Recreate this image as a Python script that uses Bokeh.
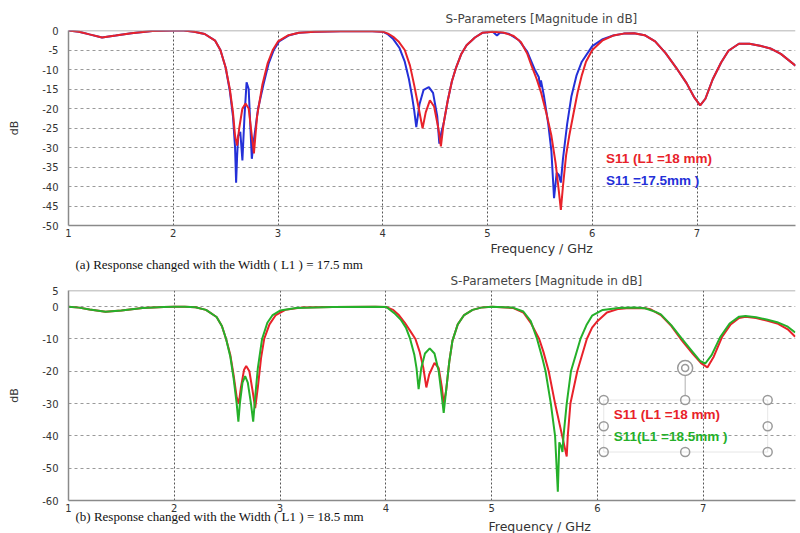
from bokeh.plotting import figure
from bokeh.layouts import column
from bokeh.models import (Label, Title, Span, FixedTicker, BoxAnnotation)
from bokeh.embed import file_html
from bokeh.resources import INLINE

# ---------------- data: panel (a) ----------------
a_red_f = [1.0, 1.1, 1.2, 1.32, 1.45, 1.6, 1.8, 2.0, 2.1, 2.2, 2.3, 2.4, 2.45, 2.5, 2.54, 2.57,
           2.59, 2.61, 2.63, 2.66, 2.69, 2.72, 2.75, 2.77, 2.8, 2.85, 2.9, 2.95, 3.0, 3.1, 3.2,
           3.35, 3.6, 3.9, 4.0, 4.05, 4.1, 4.15, 4.21, 4.26, 4.3, 4.34, 4.38, 4.41, 4.45, 4.49,
           4.53, 4.555, 4.58, 4.62, 4.66, 4.7, 4.75, 4.8, 4.88, 4.95, 5.05, 5.15, 5.25, 5.32,
           5.38, 5.42, 5.47, 5.51, 5.56, 5.61, 5.65, 5.68, 5.70, 5.72, 5.75, 5.78, 5.83, 5.86,
           5.9, 5.94, 6.0, 6.1, 6.2, 6.3, 6.4, 6.5, 6.6, 6.7, 6.8, 6.9, 6.97, 7.03, 7.08, 7.15,
           7.23, 7.3, 7.4, 7.5, 7.6, 7.7, 7.8, 7.94]
a_red_db = [0.0, -0.3, -1.0, -1.8, -1.3, -0.7, -0.1, 0.0, 0.0, -0.3, -0.9, -2.6, -5.0, -9.5, -15.0, -21.0,
            -27.0, -29.5, -25.0, -20.0, -18.7, -20.0, -27.0, -31.5, -22.0, -14.0, -8.5, -5.0, -2.8, -1.2, -0.6,
            -0.3, -0.2, -0.2, -0.3, -0.8, -1.6, -2.8, -5.0, -9.0, -14.0, -19.5, -25.1, -21.0, -17.9, -19.5,
            -25.0, -29.7, -24.0, -18.0, -13.0, -9.5, -6.0, -3.8, -1.8, -0.6, -0.3, -0.5, -1.4, -3.0,
            -6.0, -9.0, -12.5, -15.8, -21.0, -27.0, -34.0, -41.0, -46.0, -40.0, -32.0, -27.0, -20.0, -15.9,
            -11.5, -8.0, -5.0, -2.5, -1.3, -0.8, -0.7, -1.2, -2.8, -5.8, -9.5, -13.5, -17.0, -19.2, -17.5, -12.5,
            -8.2, -5.2, -3.4, -3.4, -3.9, -4.6, -6.0, -9.0]

a_blue_f = [1.0, 1.1, 1.2, 1.32, 1.45, 1.6, 1.8, 2.0, 2.1, 2.2, 2.3, 2.4, 2.45, 2.5, 2.54, 2.57,
            2.59, 2.6, 2.61, 2.62, 2.64, 2.66, 2.68, 2.70, 2.72, 2.735, 2.75, 2.77, 2.81, 2.86, 2.91,
            2.96, 3.01, 3.1, 3.2, 3.35, 3.6, 3.9, 4.0, 4.05, 4.1, 4.16, 4.21, 4.25, 4.28, 4.3, 4.32,
            4.35, 4.39, 4.44, 4.48, 4.52, 4.54, 4.56, 4.58, 4.62, 4.66, 4.7, 4.75, 4.8, 4.88, 4.95,
            5.05, 5.09, 5.12, 5.2, 5.3, 5.38, 5.45, 5.49, 5.5, 5.51, 5.54, 5.58, 5.61, 5.635, 5.66,
            5.68, 5.70, 5.72, 5.76, 5.8, 5.85, 5.9, 6.0, 6.1, 6.2, 6.3, 6.4, 6.5, 6.6, 6.7, 6.8,
            6.9, 6.97, 7.03, 7.08, 7.15, 7.23, 7.3, 7.4, 7.5, 7.6, 7.7, 7.8, 7.94]
a_blue_db = [0.0, -0.3, -1.0, -1.8, -1.3, -0.7, -0.1, 0.0, 0.0, -0.3, -0.9, -2.6, -5.0, -9.5, -15.5, -22.0,
             -30.0, -39.0, -32.0, -27.0, -26.0, -33.3, -22.0, -13.3, -15.0, -24.0, -32.9, -28.0, -20.0, -14.0, -8.5,
             -5.0, -2.8, -1.3, -0.6, -0.3, -0.2, -0.2, -0.3, -1.0, -2.2, -4.5, -8.0, -12.5, -17.0, -20.5, -24.8,
             -19.0, -15.2, -14.5, -16.0, -22.0, -29.0, -26.0, -24.0, -18.0, -13.0, -9.5, -6.0, -3.8, -1.8, -0.6,
             -0.3, -1.3, -0.5, -0.8, -2.5, -5.5, -10.0, -12.0, -14.5, -12.8, -17.0, -24.0, -31.0, -43.0, -36.5,
             -37.0, -39.0, -33.0, -24.0, -17.0, -11.5, -8.0, -4.0, -2.2, -1.3, -0.8, -0.7, -1.2, -2.8, -5.8, -9.5,
             -13.5, -17.0, -19.2, -17.5, -12.5, -8.2, -5.2, -3.4, -3.4, -3.9, -4.6, -6.0, -9.0]

# ---------------- data: panel (b) ----------------
b_red_f = [1.0, 1.1, 1.2, 1.35, 1.5, 1.7, 1.9, 2.0, 2.1, 2.2, 2.3, 2.4, 2.45, 2.49, 2.53, 2.56,
           2.59, 2.61, 2.63, 2.66, 2.68, 2.71, 2.74, 2.765, 2.79, 2.82, 2.85, 2.9, 2.96, 3.05, 3.2,
           3.5, 3.9, 4.0, 4.07, 4.12, 4.18, 4.23, 4.28, 4.32, 4.355, 4.383, 4.41, 4.46, 4.5, 4.53,
           4.547, 4.57, 4.6, 4.63, 4.68, 4.74, 4.82, 4.9, 5.0, 5.2, 5.3, 5.37, 5.45, 5.49, 5.54,
           5.60, 5.667, 5.71, 5.72, 5.745, 5.81, 5.9, 5.95, 6.0, 6.09, 6.2, 6.3, 6.45, 6.5, 6.6,
           6.7, 6.8, 6.9, 6.98, 7.04, 7.1, 7.18, 7.26, 7.34, 7.4, 7.5, 7.6, 7.7, 7.8, 7.87]
b_red_db = [0.0, -0.3, -0.9, -1.6, -1.2, -0.4, -0.1, 0.0, 0.0, -0.2, -1.0, -3.2, -6.0, -10.0, -15.0, -21.0,
            -28.0, -30.0, -25.0, -19.5, -18.4, -20.0, -26.0, -31.4, -25.0, -16.0, -10.0, -5.5, -2.6, -1.0, -0.3,
            -0.1, 0.0, -0.1, -1.0, -2.5, -5.0, -7.5, -10.0, -14.0, -19.0, -25.0, -21.0, -17.4, -19.0, -25.0,
            -30.0, -26.0, -17.0, -10.5, -5.5, -2.6, -1.0, -0.3, 0.0, -0.4, -1.8, -5.0, -10.0, -14.0, -20.0,
            -30.0, -40.0, -46.4, -40.0, -30.0, -20.0, -10.0, -6.5, -4.5, -1.8, -0.7, -0.4, -0.5, -0.8, -2.6,
            -6.0, -10.5, -14.5, -17.5, -18.8, -15.5, -9.3, -5.5, -3.5, -3.1, -3.5, -4.3, -5.2, -7.0, -9.3]

b_green_f = [1.0, 1.1, 1.2, 1.35, 1.5, 1.7, 1.9, 2.0, 2.1, 2.2, 2.3, 2.4, 2.45, 2.49, 2.53, 2.56,
             2.59, 2.606, 2.62, 2.645, 2.67, 2.695, 2.725, 2.746, 2.765, 2.79, 2.83, 2.88, 2.93, 3.0,
             3.15, 3.5, 3.9, 4.0, 4.02, 4.08, 4.14, 4.19, 4.23, 4.27, 4.29, 4.31, 4.335, 4.37, 4.415,
             4.46, 4.5, 4.53, 4.547, 4.57, 4.6, 4.63, 4.68, 4.74, 4.82, 4.9, 5.0, 5.2, 5.3, 5.37,
             5.43, 5.48, 5.51, 5.56, 5.60, 5.626, 5.64, 5.655, 5.67, 5.68, 5.71, 5.75, 5.84, 5.9,
             5.95, 6.05, 6.2, 6.35, 6.45, 6.55, 6.6, 6.7, 6.8, 6.9, 6.97, 7.02, 7.08, 7.16, 7.25,
             7.34, 7.4, 7.5, 7.6, 7.7, 7.8, 7.87]
b_green_db = [0.0, -0.3, -0.9, -1.6, -1.2, -0.4, -0.1, 0.0, 0.0, -0.2, -1.0, -3.2, -6.0, -10.0, -15.5, -22.0,
              -30.0, -35.6, -30.0, -23.5, -21.5, -23.5, -30.0, -35.6, -28.0, -19.0, -10.0, -5.0, -2.6, -1.2,
              -0.4, -0.1, 0.0, -0.1, -0.5, -2.0, -4.0, -6.5, -10.0, -15.0, -19.0, -25.5, -19.0, -14.5, -12.9,
              -14.5, -20.0, -28.0, -32.9, -26.0, -17.0, -10.5, -5.5, -2.6, -1.0, -0.3, 0.0, -0.3, -1.5, -4.5,
              -10.0, -16.0, -20.0, -30.0, -40.0, -57.3, -42.0, -43.0, -45.0, -40.0, -30.0, -20.0, -10.0, -5.5,
              -2.8, -1.0, -0.4, -0.3, -0.5, -1.6, -2.4, -5.8, -10.0, -14.0, -16.8, -17.6, -15.0, -9.5, -5.2,
              -3.1, -2.9, -3.3, -4.0, -4.8, -6.2, -8.0]

x_ticks = [1, 2, 3, 4, 5, 6, 7]
a_y_ticks = [0, -5, -10, -15, -20, -25, -30, -35, -40, -45, -50]
b_y_ticks = [5, 0, -10, -20, -30, -40, -50, -60]

title_text = "S-Parameters [Magnitude in dB]"
x_label = "Frequency / GHz"
y_label = "dB"
cap_a = "(a) Response changed with the Width ( L1 ) = 17.5 mm"
cap_b = "(b) Response changed with the Width ( L1 ) = 18.5 mm"
leg_a = ["S11 (L1 =18 mm)", "S11 =17.5mm )"]
leg_b = ["S11 (L1 =18 mm)", "S11(L1 =18.5mm )"]

# text-box handles drawn over panel (b) (annotation decoration)
box_x = [6.06, 6.83, 7.61]
box_y = [-28.9, -37.0, -45.0]
rot_handle = (6.83, -19.0)

RED = "#e8222a"
BLUE = "#2430d8"
GREEN = "#25b02a"
AX_FONT = "DejaVu Sans"
LEG_FONT = "'Liberation Sans Narrow', 'Liberation Sans', sans-serif"
SERIF = "'Liberation Serif', serif"


def make_title(text, offset, standoff, font, size, color, valign="bottom"):
    kw = dict(text=text, align="left", offset=offset, text_font=font, text_font_size=size,
              text_font_style="normal", text_color=color, vertical_align=valign)
    try:
        return Title(standoff=standoff, **kw)
    except Exception:
        return Title(standoff=0, **kw)


def style(p, yticks):
    p.outline_line_color = None
    p.background_fill_color = "white"
    p.border_fill_color = "white"
    for ax in (p.xaxis[0], p.yaxis[0]):
        ax.major_tick_in = 0
        ax.major_tick_out = 0
        ax.minor_tick_in = 0
        ax.minor_tick_out = 0
        ax.major_label_text_font = AX_FONT
        ax.major_label_text_font_size = "10px"
        ax.major_label_text_color = "#333333"
        ax.axis_label_text_font = AX_FONT
        ax.axis_label_text_font_size = "11px"
        ax.axis_label_text_font_style = "normal"
        ax.axis_label_text_color = "#333333"
        ax.axis_line_color = "#8a8a8a"
        ax.axis_line_width = 1.5
    p.xaxis.ticker = FixedTicker(ticks=x_ticks)
    p.yaxis.ticker = FixedTicker(ticks=yticks)
    p.yaxis.major_label_overrides = {t: str(t) for t in yticks}
    p.xaxis.major_label_overrides = {t: str(t) for t in x_ticks}
    p.yaxis.axis_label = y_label
    p.xaxis.major_label_standoff = 3
    p.yaxis.major_label_standoff = 10
    p.yaxis.axis_label_standoff = 18
    p.xgrid.ticker = FixedTicker(ticks=x_ticks[1:])
    p.xgrid.grid_line_color = "#555555"
    p.xgrid.grid_line_dash = "2 2"
    p.xgrid.grid_line_width = 1
    p.ygrid.ticker = FixedTicker(ticks=[t for t in yticks if t != max(yticks)])
    p.ygrid.grid_line_color = "#9a9a9a"
    p.ygrid.grid_line_dash = "3 3"
    p.ygrid.grid_line_width = 1
    p.add_layout(Span(location=max(yticks), dimension="width", line_color="#9a9a9a", line_width=1.5))


# ---------------- panel (a) ----------------
p1 = figure(width=800, height=272, x_range=(1, 7.94), y_range=(-50, 0),
            output_backend="svg", toolbar_location=None,
            min_border_left=66, min_border_right=5, min_border_top=30, min_border_bottom=47)
style(p1, a_y_ticks)
p1.add_layout(make_title(title_text, 377, 6, AX_FONT, "12px", "#444444", "top"), "above")
p1.add_layout(make_title(x_label, 422, -1.5, AX_FONT, "12.5px", "#333333"), "below")
p1.add_layout(make_title(cap_a, 7, -1, SERIF, "13px", "#111111"), "below")
p1.line(a_blue_f, a_blue_db, line_color=BLUE, line_width=2)
p1.line(a_red_f, a_red_db, line_color=RED, line_width=2)
p1.add_layout(Label(x=6.13, y=-32.8, text=leg_a[0], text_color=RED, text_font=LEG_FONT,
                    text_font_size="13.5px", text_font_style="bold", text_baseline="middle"))
p1.add_layout(Label(x=6.13, y=-38.5, text=leg_a[1], text_color=BLUE, text_font=LEG_FONT,
                    text_font_size="13.5px", text_font_style="bold", text_baseline="middle"))

# ---------------- panel (b) ----------------
p2 = figure(width=800, height=261, x_range=(1, 7.873), y_range=(-60, 5),
            output_backend="svg", toolbar_location=None,
            min_border_left=68, min_border_right=0, min_border_top=18, min_border_bottom=33)
style(p2, b_y_ticks)
p2.add_layout(make_title(title_text, 382, 2, AX_FONT, "12px", "#444444", "top"), "above")
# caption (b) shares the row of the axis label, as in the original
p2.add_layout(make_title(cap_b, 7, -14, SERIF, "13px", "#111111", "middle"), "below")
p2.add_layout(make_title(x_label, 420, -2.5, AX_FONT, "12.5px", "#333333"), "below")
p2.line(b_red_f, b_red_db, line_color=RED, line_width=2)
p2.line(b_green_f, b_green_db, line_color=GREEN, line_width=2)

# selected text box (annotation with handles)
p2.add_layout(BoxAnnotation(left=box_x[0], right=box_x[2], top=box_y[0], bottom=box_y[2],
                            fill_alpha=0, line_color="#b0b0b0", line_width=1))
p2.line([rot_handle[0], box_x[1]], [rot_handle[1], box_y[0]], line_color="#b0b0b0", line_width=1)
hx = [box_x[0], box_x[1], box_x[2], box_x[0], box_x[2], box_x[0], box_x[1], box_x[2]]
hy = [box_y[0], box_y[0], box_y[0], box_y[1], box_y[1], box_y[2], box_y[2], box_y[2]]
p2.scatter(hx, hy, size=9, marker="circle", fill_color="white", line_color="#9a9a9a", line_width=1.5)
p2.scatter([rot_handle[0]], [rot_handle[1]], size=15, marker="circle", fill_color="white",
           line_color="#9a9a9a", line_width=1.5)
p2.scatter([rot_handle[0]], [rot_handle[1]], size=7, marker="circle", fill_color="white",
           line_color="#9a9a9a", line_width=1.5)

p2.add_layout(Label(x=6.155, y=-33.5, text=leg_b[0], text_color=RED, text_font=LEG_FONT,
                    text_font_size="13.5px", text_font_style="bold", text_baseline="middle"))
p2.add_layout(Label(x=6.155, y=-40.3, text=leg_b[1], text_color=GREEN, text_font=LEG_FONT,
                    text_font_size="13.5px", text_font_style="bold", text_baseline="middle"))

layout = column(p1, p2, spacing=0)
open("out.html", "w").write(file_html(layout, INLINE))
